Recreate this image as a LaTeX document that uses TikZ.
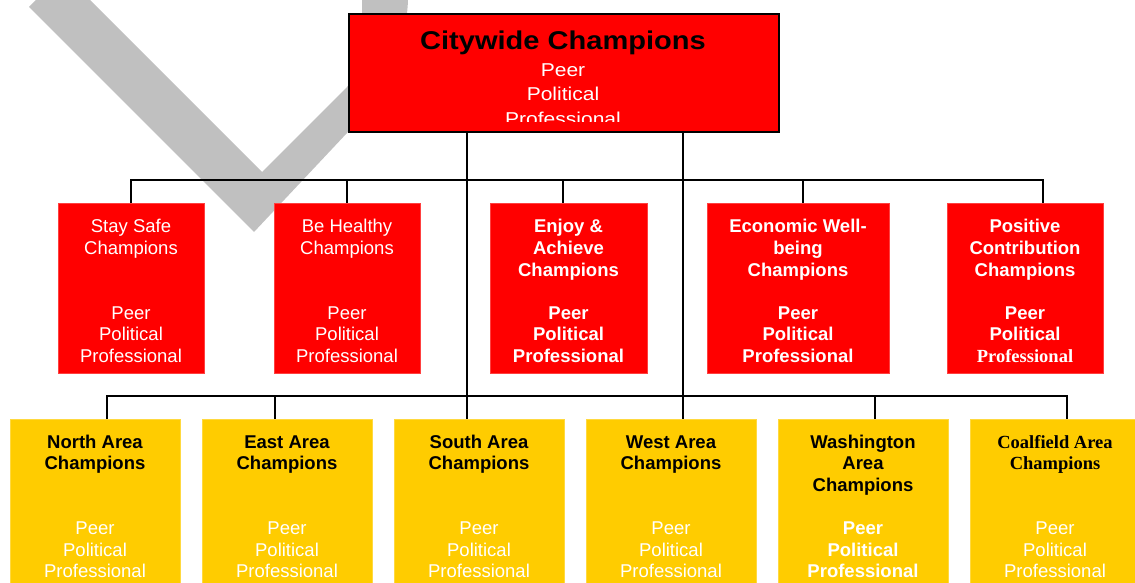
\documentclass[tikz,border=0pt]{standalone}
\usepackage{fontspec}
\setmainfont{Liberation Sans}
\newfontfamily\timesf{Liberation Serif}
\newfontfamily\topf[FakeStretch=1.13]{Liberation Sans}
\definecolor{boxred}{HTML}{FF0000}
\definecolor{boxgold}{HTML}{FFCC00}
\definecolor{wmgray}{HTML}{C0C0C0}
\newcommand\boxcontent[4]{\parbox[t][#2][t]{#1}{\centering\fontsize{18.5}{21.6}\selectfont\vspace*{#3}\strut #4}}
\begin{document}
\begin{tikzpicture}[x=1pt,y=-1pt,
  midbox/.style={fill=boxred, draw=boxred!75!white, line width=0.6pt, inner sep=0pt, outer sep=0pt, anchor=north west, text=white},
  areabox/.style={fill=boxgold, draw=boxgold!75!white, line width=0.6pt, inner sep=0pt, outer sep=0pt, anchor=north west, text=white},
  topbox/.style={fill=boxred, draw=black, line width=2pt, minimum width=430pt, minimum height=118pt, inner sep=0pt, anchor=north west},
  conn/.style={draw=black, line width=2pt, line join=miter},
  wm/.style={fill=wmgray}]
\useasboundingbox (0,0) rectangle (1135,583);
\clip (0,0) rectangle (1135,583);
% watermark tick
\fill[wm] (36,0) -- (29,7) -- (254,232) -- (347,133) .. controls (385,93) and (406,50) .. (408,0)
  -- (362,0) .. controls (363,40) and (358,75) .. (347,87) -- (262,172) -- (90,0) -- cycle;
% top box
\node[topbox] (top) at (348,13) {};
\begin{scope}
\clip (349,14) rectangle (777,121.7);
\node[anchor=north, inner sep=0pt, text=white] (topT) at (563,12) {\parbox[t][120pt][t]{430pt}{\centering\topf\fontsize{25.7}{27}\selectfont\vspace*{18.1pt}\strut\color{black}\bfseries Citywide Champions\par\vspace{2.4pt}\fontsize{18.6}{24.6}\selectfont\mdseries\color{white}Peer\\Political\\Professional}};
\end{scope}
% middle boxes
\node[midbox] (stay) at (58,203) {\boxcontent{146pt}{170pt}{14.8pt}{Stay Safe\\Champions\\[2\baselineskip]Peer\\Political\\Professional}};
\node[midbox] (heal) at (274,203) {\boxcontent{146pt}{170pt}{14.8pt}{Be Healthy\\Champions\\[2\baselineskip]Peer\\Political\\Professional}};
\node[midbox] (enjoy) at (490,203) {\boxcontent{157pt}{170pt}{14.8pt}{\bfseries Enjoy \&\\Achieve\\Champions\\[\baselineskip]Peer\\Political\\Professional}};
\node[midbox] (econ) at (707,203) {\boxcontent{182pt}{170pt}{14.8pt}{\bfseries Economic Well-\\being\\Champions\\[\baselineskip]Peer\\Political\\Professional}};
\node[midbox] (pos) at (947,203) {\boxcontent{156pt}{170pt}{14.8pt}{\bfseries Positive\\Contribution\\Champions\\[\baselineskip]Peer\\Political\\{\timesf Professional}}};
% area boxes
\node[areabox] (north) at (10,419) {\boxcontent{170pt}{171pt}{14pt}{\color{black}\bfseries North Area\\Champions\\[2\baselineskip]\color{white}\mdseries Peer\\Political\\Professional}};
\node[areabox] (east) at (202,419) {\boxcontent{170pt}{171pt}{14pt}{\color{black}\bfseries East Area\\Champions\\[2\baselineskip]\color{white}\mdseries Peer\\Political\\Professional}};
\node[areabox] (south) at (394,419) {\boxcontent{170pt}{171pt}{14pt}{\color{black}\bfseries South Area\\Champions\\[2\baselineskip]\color{white}\mdseries Peer\\Political\\Professional}};
\node[areabox] (west) at (586,419) {\boxcontent{170pt}{171pt}{14pt}{\color{black}\bfseries West Area\\Champions\\[2\baselineskip]\color{white}\mdseries Peer\\Political\\Professional}};
\node[areabox] (wash) at (778,419) {\boxcontent{170pt}{171pt}{14pt}{\color{black}\bfseries Washington\\Area\\Champions\\[\baselineskip]\color{white}Peer\\Political\\Professional}};
\node[areabox] (coal) at (970,419) {\boxcontent{170pt}{171pt}{14pt}{\color{black}\timesf\bfseries Coalfield Area\\Champions\\[2\baselineskip]\color{white}\normalfont Peer\\Political\\Professional}};
% bus coordinates
\coordinate (m1) at (131,180);
\coordinate (m2) at (347,180);
\coordinate (m3) at (563,180);
\coordinate (m4) at (803,180);
\coordinate (m5) at (1043,180);
\coordinate (L) at (467,180);
\coordinate (R) at (683,180);
\coordinate (b1) at (107,396);
\coordinate (b2) at (275,396);
\coordinate (b5) at (875,396);
\coordinate (b6) at (1067,396);
% connectors
\draw[conn] (stay.north) -- (m1) -- (m5) -- (m5 |- pos.north);
\draw[conn] (m2) -- (heal.north);
\draw[conn] (m3) -- (m3 |- enjoy.north);
\draw[conn] (m4) -- (m4 |- econ.north);
\draw[conn] (L |- top.south) -- (L |- south.north);
\draw[conn] (R |- top.south) -- (R |- west.north);
\draw[conn] (b1 |- north.north) -- (b1) -- (b6) -- (b6 |- coal.north);
\draw[conn] (b2) -- (b2 |- east.north);
\draw[conn] (b5) -- (b5 |- wash.north);
\end{tikzpicture}
\end{document}
